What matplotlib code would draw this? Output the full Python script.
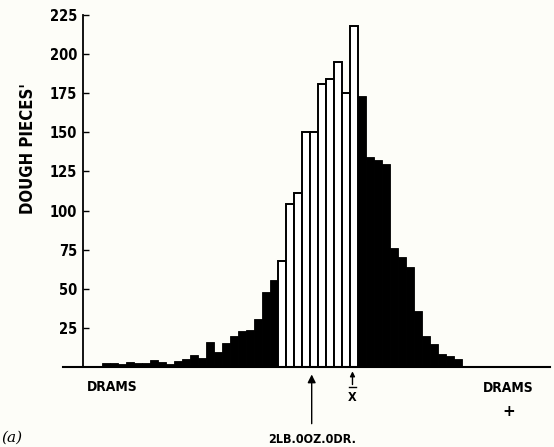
import matplotlib
matplotlib.use("Agg")
import matplotlib.pyplot as plt
import numpy as np

# ---- data (counts of dough pieces per weight class) ----
left_black = [2.3, 2.3, 2, 3, 2.5, 2.5, 4.5, 3, 2, 4, 5,
              7.6, 6, 16, 9.5, 15.5, 20, 23, 23.5, 30.5, 48, 55.6]
white_bars = [68, 104, 111, 150, 150, 181, 184, 195, 175, 218]
right_black = [173, 134, 132, 130, 76, 70, 64, 36, 20, 15, 8, 7, 5]
yticks = [25, 50, 75, 100, 125, 150, 175, 200, 225]
target_pos = 26.2   # 2LB.0OZ.0DR. marker (bin units)
mean_pos = 31.3     # X (mean) marker

BG = "#fdfdf8"
FONT = dict(family="DejaVu Sans", fontweight="bold", fontstretch="condensed")

fig = plt.figure(figsize=(5.54, 4.47), dpi=100, facecolor=BG)
ax = fig.add_axes([63/554, (447-367)/447, (550-63)/554, (367-15)/447])
ax.set_facecolor(BG)

n_l, n_w, n_r = len(left_black), len(white_bars), len(right_black)
x_l = np.arange(n_l)
x_w = np.arange(n_l, n_l + n_w)
x_r = np.arange(n_l + n_w, n_l + n_w + n_r)

ax.bar(x_l, left_black, width=1.0, align="edge", color="black", edgecolor="black", linewidth=0.6)
ax.bar(x_w, white_bars, width=1.0, align="edge", color="white", edgecolor="black", linewidth=1.4)
ax.bar(x_r, right_black, width=1.0, align="edge", color="black", edgecolor="black", linewidth=0.6)

ax.set_xlim(-4.9, 56)
ax.set_ylim(0, 225)

for s in ["top", "right"]:
    ax.spines[s].set_visible(False)
ax.spines["left"].set_position(("data", -2.41))
ax.spines["left"].set_linewidth(1.3)
ax.spines["bottom"].set_linewidth(1.5)

ax.set_xticks([])
ax.set_yticks(yticks)
ax.set_yticklabels([str(t) for t in yticks], fontsize=10.5, **FONT)
ax.tick_params(axis="y", direction="in", length=4.5, width=1.0, pad=4)

fig.text(28/554, 1 - 149/447, "DOUGH PIECES'", rotation=90, ha="center", va="center",
         fontsize=12, **FONT)

# bottom annotations
ax.annotate("", xy=(target_pos, -3), xytext=(target_pos, -38),
            arrowprops=dict(arrowstyle="-|>", color="black", lw=1.0, mutation_scale=12),
            annotation_clip=False)
ax.text(target_pos, -42, "2LB.0OZ.0DR.", ha="center", va="top", fontsize=9, clip_on=False,
        **FONT)
ax.annotate("", xy=(mean_pos, -1), xytext=(mean_pos, -13),
            arrowprops=dict(arrowstyle="-|>", color="black", lw=1.0, mutation_scale=7),
            annotation_clip=False)
ax.plot([mean_pos - 0.4, mean_pos + 0.4], [-13, -13], color="black", lw=1.0, clip_on=False)
ax.text(mean_pos, -15.5, "X", ha="center", va="top", fontsize=9, clip_on=False, **FONT)

fig.text(112/554, 1 - 387/447, "DRAMS", ha="center", va="center", fontsize=10, **FONT)
fig.text(508/554, 1 - 388/447, "DRAMS", ha="center", va="center", fontsize=10, **FONT)
fig.text(509/554, 1 - 412/447, "+", ha="center", va="center", fontsize=11, fontweight="bold")
fig.text(12/554, 1 - 438/447, "(a)", ha="center", va="center", fontsize=11, style="italic",
         family="DejaVu Serif")

fig.savefig("out.png", dpi=100, facecolor=BG)
